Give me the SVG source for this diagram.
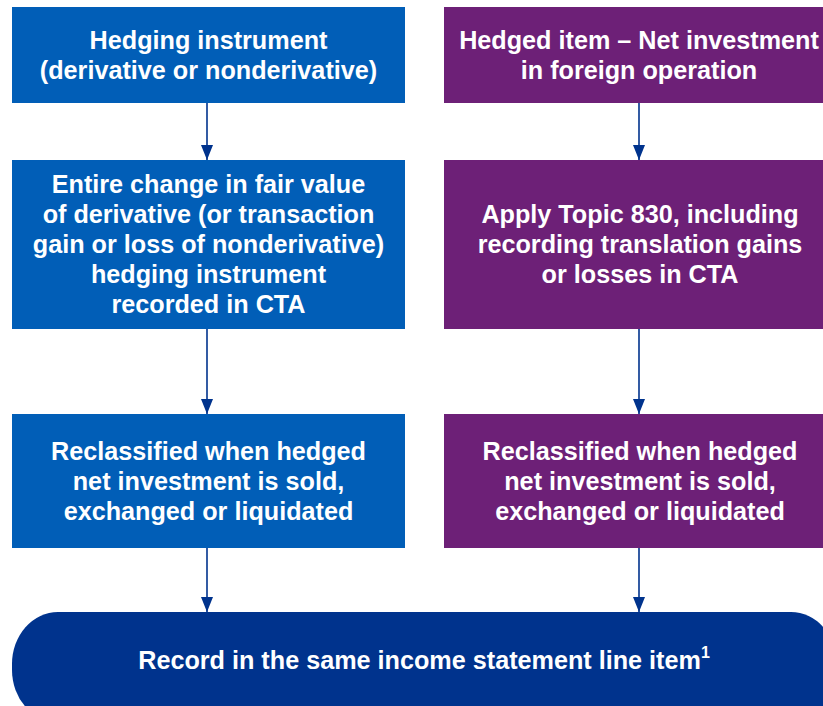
<svg xmlns="http://www.w3.org/2000/svg" width="823" height="706" viewBox="0 0 823 706">
<defs>
<style>
.t{font-family:"Liberation Sans",Arial,sans-serif;font-weight:bold;font-size:25.2px;fill:#ffffff;text-anchor:middle}
.blue{fill:#015EB7}
.purple{fill:#6D2077}
.navy{fill:#00338D}
.conn{stroke:#00338D;stroke-width:1.6;fill:none;marker-end:url(#ah)}
</style>
<marker id="ah" markerWidth="15" markerHeight="12" refX="15" refY="6" orient="auto" markerUnits="userSpaceOnUse" viewBox="0 0 15 12">
<path d="M0,0 L15,6 L0,12 Z" fill="#00338D"/>
</marker>
</defs>
<rect width="823" height="706" fill="#ffffff"/>
<g id="n1">
<rect class="blue" x="12" y="7" width="393" height="96"/>
<text class="t" x="208.5" y="49">Hedging instrument</text>
<text class="t" x="208.5" y="79">(derivative or nonderivative)</text>
</g>
<g id="n2">
<rect class="purple" x="444" y="7" width="393" height="96"/>
<text class="t" x="639" y="49">Hedged item – Net investment</text>
<text class="t" x="639" y="79">in foreign operation</text>
</g>
<g id="n3">
<rect class="blue" x="12" y="160" width="393" height="169"/>
<text class="t" x="208.5" y="193">Entire change in fair value</text>
<text class="t" x="208.5" y="223">of derivative (or transaction</text>
<text class="t" x="208.5" y="253">gain or loss of nonderivative)</text>
<text class="t" x="208.5" y="283">hedging instrument</text>
<text class="t" x="208.5" y="313">recorded in CTA</text>
</g>
<g id="n4">
<rect class="purple" x="444" y="160" width="393" height="169"/>
<text class="t" x="640" y="223">Apply Topic 830, including</text>
<text class="t" x="640" y="253">recording translation gains</text>
<text class="t" x="640" y="283">or losses in CTA</text>
</g>
<g id="n5">
<rect class="blue" x="12" y="414" width="393" height="134"/>
<text class="t" x="208.5" y="460">Reclassified when hedged</text>
<text class="t" x="208.5" y="490">net investment is sold,</text>
<text class="t" x="208.5" y="520">exchanged or liquidated</text>
</g>
<g id="n6">
<rect class="purple" x="444" y="414" width="393" height="134"/>
<text class="t" x="640" y="460">Reclassified when hedged</text>
<text class="t" x="640" y="490">net investment is sold,</text>
<text class="t" x="640" y="520">exchanged or liquidated</text>
</g>
<g id="n7">
<rect class="navy" x="12" y="612" width="825" height="110" rx="46" ry="52"/>
<text class="t" x="424" y="669">Record in the same income statement line item<tspan font-size="16" dy="-11">1</tspan></text>
</g>
<g id="connectors">
<line class="conn" x1="207" y1="103" x2="207" y2="160"/>
<line class="conn" x1="639" y1="103" x2="639" y2="160"/>
<line class="conn" x1="207" y1="329" x2="207" y2="414"/>
<line class="conn" x1="639" y1="329" x2="639" y2="414"/>
<line class="conn" x1="207" y1="548" x2="207" y2="612"/>
<line class="conn" x1="639" y1="548" x2="639" y2="612"/>
</g>
</svg>
